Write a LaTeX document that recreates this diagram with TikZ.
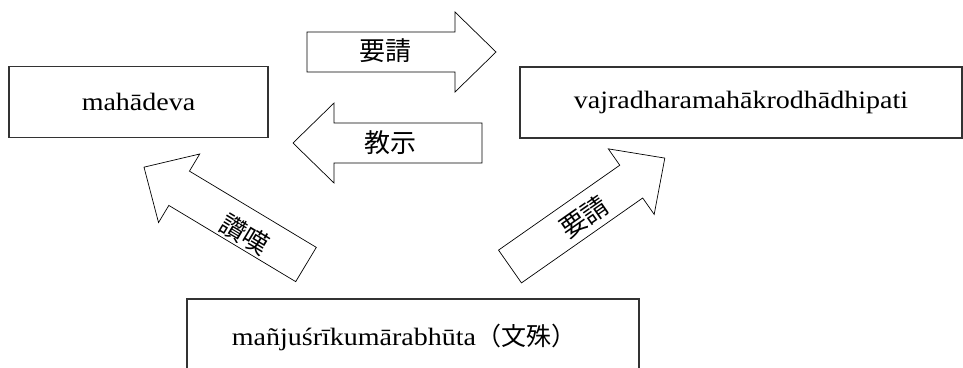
\documentclass[tikz,border=0pt]{standalone}
\usepackage{fontspec}
\setmainfont[FakeStretch=1.12]{Liberation Serif}
\newfontfamily\cjk{Noto Sans CJK JP}
\tikzset{
  boxnode/.style={draw=black!80, line width=1.1pt, minimum height=71pt, inner sep=0pt,
    font=\fontsize{25}{30}\selectfont},
  bigarrow/.style={draw=black, line width=0.7pt, fill=white, line join=miter},
  arrlabel/.style={inner sep=0pt, font=\cjk\fontsize{26}{30}\selectfont}
}
\begin{document}
\begin{tikzpicture}[x=1pt,y=-1pt]
\useasboundingbox (0,0) rectangle (963,367);
\clip (0,0) rectangle (963,367);
% boxes
\node[boxnode, minimum width=259pt] (maha) at (138.5,102) {mahādeva};
\node[boxnode, minimum width=442pt] (vajra) at (741,102.5) {vajradharamahākrodhādhipati};
\node[boxnode, minimum width=452pt, minimum height=76pt] (manju) at (413,337) {};
\node[inner sep=0pt, font=\fontsize{25}{30}\selectfont] (manjutext) at (404,337) {mañjuśrīkumārabhūta{\cjk（文殊）}};
% arrows: tail centre, direction
\coordinate (t1) at (307,52);
\coordinate (t2) at (482,143);
\coordinate (t3) at (306,264.5);
\coordinate (t4) at (510,266.5);
\foreach \t/\a in {t1/0, t2/180, t3/149, t4/35}{
  \draw[bigarrow, shift={(\t)}, rotate=\a]
    (0,-20) -- (148,-20) -- (148,-40) -- (189,0) -- (148,40) -- (148,20) -- (0,20) -- cycle;
}
% labels
\node[arrlabel] (l1) at (385,51) {要請};
\node[arrlabel] (l2) at (390,143) {教示};
\node[arrlabel, rotate=-31] (l3) at (245,234) {讚嘆};
\node[arrlabel, rotate=35] (l4) at (584,217) {要請};
\end{tikzpicture}
\end{document}
